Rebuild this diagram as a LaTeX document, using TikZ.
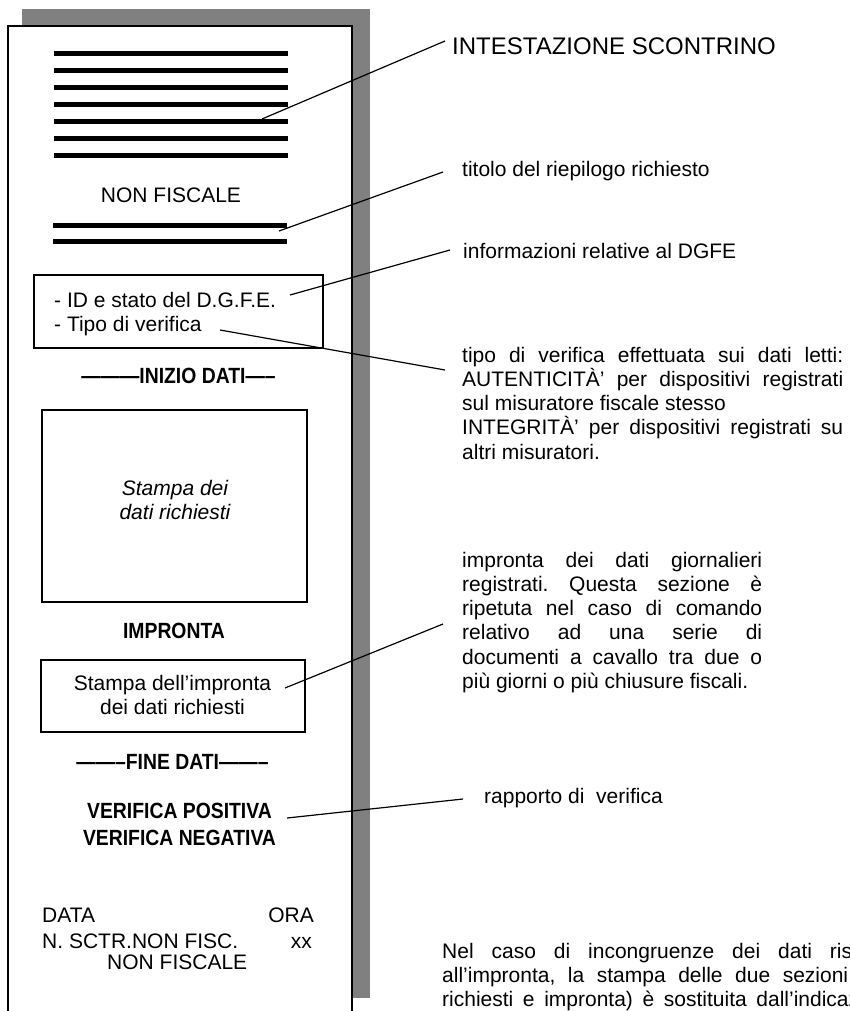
\documentclass[tikz,border=0pt]{standalone}
\usepackage{fontspec}
\setmainfont{Liberation Sans}
\usetikzlibrary{positioning}
\frenchspacing

\newcommand{\rcptfont}{\fontsize{21}{24.5}\selectfont}
\newcommand{\narrowbf}[1]{\scalebox{0.88}[1]{\bfseries #1}}

\begin{document}
\begin{tikzpicture}[x=1pt,y=-1pt]
\tikzset{
  lbl/.style={inner sep=0pt,font=\rcptfont},
  boldlbl/.style={inner sep=0pt,font=\fontsize{22}{27}\selectfont,align=center,anchor=base},
  note/.style={inner sep=0pt,font=\fontsize{21}{24.3}\selectfont,align=justify,anchor=base west},
  framebox/.style={draw,line width=1.4pt,outer sep=0pt,inner sep=0pt,anchor=north west},
  bar/.style={line width=5.3pt},
  leader/.style={line width=1.2pt}
}
\useasboundingbox (0,0) rectangle (850,1011);
\clip (0,0) rectangle (850,1011);
% shadow and paper
\fill[black!50] (22,9) rectangle (370,998);
\fill[white] (8,26) rectangle (352,1011);
\draw[line width=2pt] (8,1011) -- (8,26) -- (352,26) -- (352,1011);
% header bars
\foreach \y in {53.5,70.5,...,155.5}
  \draw[bar] (54,\y) -- (288,\y);
\foreach \y in {225.7,241.7}
  \draw[bar] (53,\y) -- (287,\y);

% receipt (multi-line nodes sit on their last baseline)
\node[lbl,anchor=base] (nonfisc) at (171,203) {NON FISCALE};
\node[framebox,minimum width=289pt,minimum height=73pt] (dgfebox) at (34,275) {};
\node[lbl,anchor=base west,align=left] (dgfe) at (54,331.5) {- ID e stato del D.G.F.E.\\- Tipo di verifica};
\node[boldlbl] (inizio) at (178.5,383) {\narrowbf{———INIZIO DATI—–}};
\node[framebox,minimum width=265pt,minimum height=192pt] (datibox) at (42,410) {};
\node[lbl,anchor=base,align=center,font=\rcptfont\itshape] (dati) at (175,519.5) {Stampa dei\\dati richiesti};
\node[boldlbl] (impronta) at (174,638) {\narrowbf{IMPRONTA}};
\node[framebox,minimum width=264pt,minimum height=72pt] (imprbox) at (41,660) {};
\node[lbl,anchor=base,align=center] (impr) at (172.5,714.5) {Stampa dell’impronta\\dei dati richiesti};
\node[boldlbl] (fine) at (172.5,769) {\narrowbf{——–FINE DATI——–}};
\node[boldlbl] (verifica) at (179.5,845) {\narrowbf{VERIFICA POSITIVA}\\\narrowbf{VERIFICA NEGATIVA}};
\node[lbl,anchor=base west] (data) at (42,922) {DATA};
\node[lbl,anchor=base east] (ora) at (314,922) {ORA};
\node[lbl,anchor=base west] (nscontr) at (42,948) {N. SCTR.NON FISC.};
\node[lbl,anchor=base east] (xx) at (312,948) {xx};
\node[lbl,anchor=base west] (nonfisc2) at (107,969) {NON FISCALE};

% notes on the right
\node[lbl,anchor=base west,font=\fontsize{24}{28}\selectfont] (intest) at (452,54.5) {INTESTAZIONE SCONTRINO};
\node[lbl,anchor=base west] (titolo) at (462,176) {titolo del riepilogo richiesto};
\node[lbl,anchor=base west] (info) at (463,258) {informazioni relative al DGFE};
\node[note,text width=381pt] (tipo) at (462,362) {tipo di verifica effettuata sui dati letti:\linebreak
  AUTENTICITÀ’ per dispositivi registrati\linebreak
  sul misuratore fiscale stesso\newline
  INTEGRITÀ’ per dispositivi registrati su\linebreak
  altri misuratori.};
\node[note,text width=300pt] (imprnote) at (462,567) {impronta dei dati giornalieri\linebreak
  registrati. Questa sezione è\linebreak
  ripetuta nel caso di comando\linebreak
  relativo ad una serie di\linebreak
  documenti a cavallo tra due o\linebreak
  più giorni o più chiusure fiscali.};
\node[lbl,anchor=base west] (rapporto) at (484,803) {rapporto di \ verifica};
\node[lbl,anchor=base west,align=left,font=\fontsize{21}{24}\selectfont] (nelcaso) at (442,1006)
  {\makebox[410pt][s]{Nel caso di incongruenze dei dati ris}\\
   \makebox[406pt][s]{all’impronta, la stampa delle due sezioni}\\
   \makebox[417pt][s]{richiesti e impronta) è sostituita dall’indicaz}};

% leaders
\coordinate (intest_from) at (262,119);
\coordinate (intest_to) at (445,41);
\coordinate (titolo_from) at (279,231);
\coordinate (titolo_to) at (443,172);
\coordinate (info_from) at (290,295);
\coordinate (info_to) at (450,250);
\coordinate (tipo_from) at (220,330);
\coordinate (tipo_to) at (445,370);
\coordinate (impr_from) at (285,688);
\coordinate (impr_to) at (443,624);
\coordinate (verif_from) at (287,818);
\coordinate (verif_to) at (463,799);
\draw[leader] (intest_from) -- (intest_to);
\draw[leader] (titolo_from) -- (titolo_to);
\draw[leader] (info_from) -- (info_to);
\draw[leader] (tipo_from) -- (tipo_to);
\draw[leader] (impr_from) -- (impr_to);
\draw[leader] (verif_from) -- (verif_to);
\end{tikzpicture}
\end{document}
